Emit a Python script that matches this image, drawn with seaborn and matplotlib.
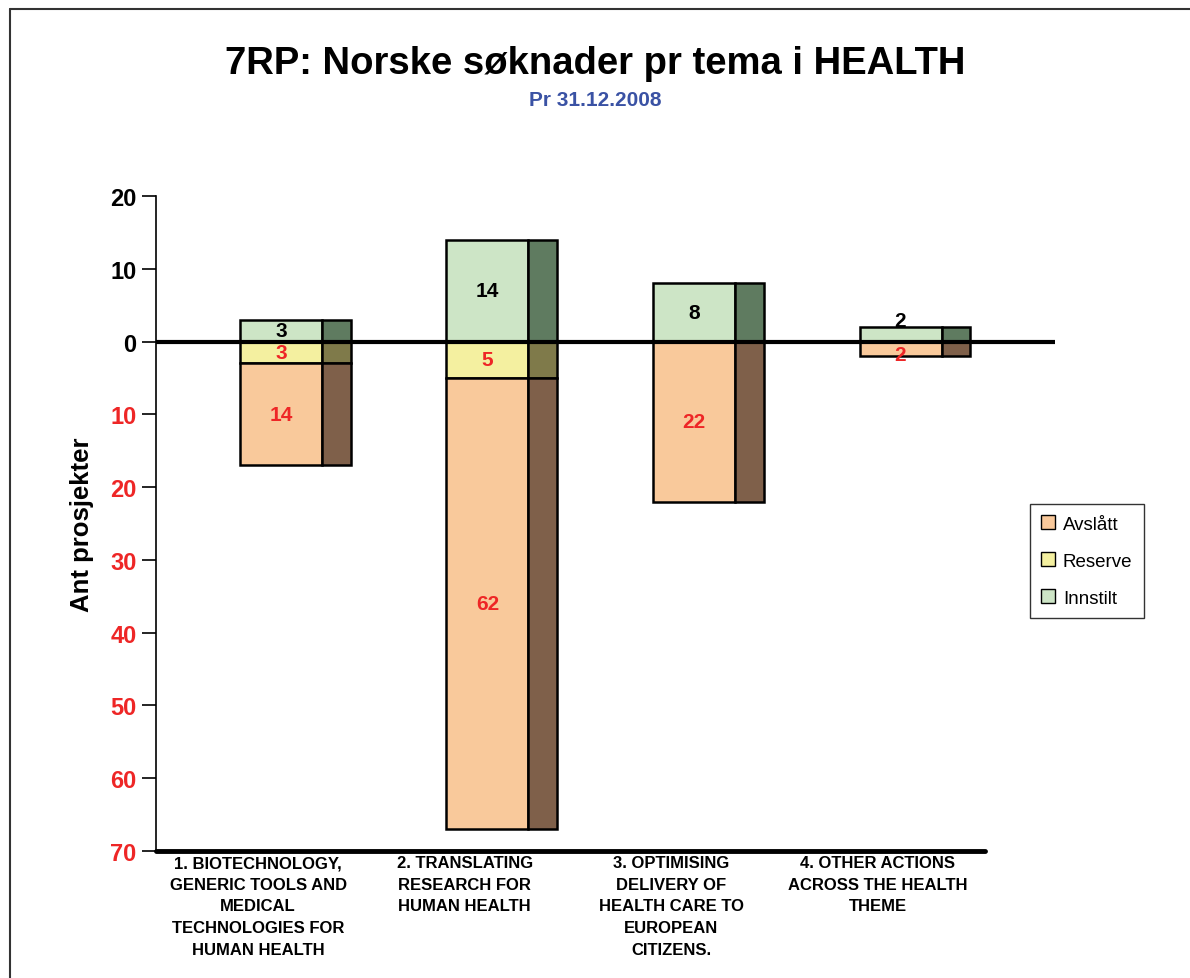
import numpy as np
import matplotlib
matplotlib.use("Agg")
import matplotlib.pyplot as plt
import seaborn as sns
from matplotlib.lines import Line2D
from matplotlib.patches import Patch

# data (antall prosjekter per tema)
temaer = ["1. BIOTECHNOLOGY,\nGENERIC TOOLS AND\nMEDICAL\nTECHNOLOGIES FOR\nHUMAN HEALTH",
          "2. TRANSLATING\nRESEARCH FOR\nHUMAN HEALTH",
          "3. OPTIMISING\nDELIVERY OF\nHEALTH CARE TO\nEUROPEAN\nCITIZENS.",
          "4. OTHER ACTIONS\nACROSS THE HEALTH\nTHEME"]
innstilt = [3, 14, 8, 2]
reserve = [3, 5, 0, 0]
avslatt = [14, 62, 22, 2]
yticks = [20, 10, 0, -10, -20, -30, -40, -50, -60, -70]

sns.set_style("white")
plt.rcParams["font.family"] = ["Liberation Sans", "DejaVu Sans"]
plt.rcParams.update({"text.color": "black", "axes.labelcolor": "black",
                     "xtick.color": "black", "ytick.color": "black"})

fig = plt.figure(figsize=(11.9, 9.79), dpi=100)
ax = fig.add_axes([156 / 1190, 127 / 979, (1055 - 156) / 1190, (853 - 198) / 979])

front = {"Avslått": "#F9C99B", "Reserve": "#F4F0A0", "Innstilt": "#CDE5C6"}
side = {"Avslått": "#7F604A", "Reserve": "#7F7A4A", "Innstilt": "#5F7B60"}

x = np.arange(len(temaer))
fw, sw = 0.397, 0.14
inn = np.array(innstilt)
res = -np.array(reserve)
avs = -np.array(avslatt)

layers = [("Innstilt", inn, np.zeros(4)),
          ("Reserve", res, np.zeros(4)),
          ("Avslått", avs, res)]
for name, h, b in layers:
    ax.bar(x, h, bottom=b, width=fw, color=front[name], edgecolor="black", linewidth=1.8, zorder=2)
    ax.bar(x + fw / 2 + sw / 2, h, bottom=b, width=sw, color=side[name], edgecolor="black",
           linewidth=1.8, zorder=2)

# value labels
red = "#EE2626"
for i in range(4):
    ax.text(x[i], inn[i] / 2 + (1.9 if inn[i] < 3 else 0), str(innstilt[i]), ha="center", va="center",
            fontsize=15, fontweight="bold", color="black", zorder=5)
    if reserve[i]:
        ax.text(x[i], res[i] / 2, str(reserve[i]), ha="center", va="center",
                fontsize=15, fontweight="bold", color=red, zorder=5)
    ax.text(x[i], res[i] + avs[i] / 2 - (0.8 if avslatt[i] < 3 else 0), str(avslatt[i]), ha="center",
            va="center", fontsize=15, fontweight="bold", color=red, zorder=5)

ax.set_xlim(-0.605, 3.748)
ax.set_ylim(-70, 20)

# zero line and bottom line
ax.axhline(0, color="black", lw=3, zorder=4)
ax.plot([-0.605, 3.41], [-70, -70], color="black", lw=3.5, clip_on=False, zorder=4)

for s in ["top", "right", "bottom"]:
    ax.spines[s].set_visible(False)
ax.spines["left"].set_linewidth(1.2)
ax.spines["left"].set_color("black")

ax.set_yticks(yticks)
ax.set_yticklabels([str(abs(v)) for v in yticks], fontsize=17, fontweight="bold")
for lab, v in zip(ax.get_yticklabels(), yticks):
    lab.set_color(red if v < 0 else "black")
ax.tick_params(axis="y", direction="out", length=10, width=1.2, color="black", left=True, pad=4)

ax.set_xticks(x - 0.11)
ax.set_xticklabels(temaer, fontsize=12, fontweight="bold", linespacing=1.55)
ax.tick_params(axis="x", length=0, pad=3)

ax.set_ylabel("Ant prosjekter", fontsize=18.5, fontweight="bold", labelpad=12)

fig.text(0.5, 0.935, "7RP: Norske søknader pr tema i HEALTH", ha="center", va="center",
         fontsize=27.5, fontweight="bold")
fig.text(0.5, 0.897, "Pr 31.12.2008", ha="center", va="center",
         fontsize=15, fontweight="bold", color="#3A52A4")

handles = [Patch(facecolor=front[n], edgecolor="black", label=n) for n in ["Avslått", "Reserve", "Innstilt"]]
leg = fig.legend(handles=handles, loc="upper left", bbox_to_anchor=(1030 / 1190, 1 - 505 / 979),
                 fontsize=13.5, frameon=True, fancybox=False, handlelength=0.75, handleheight=0.75,
                 handletextpad=0.4, labelspacing=1.05, borderpad=0.6, borderaxespad=0)
leg.get_frame().set_edgecolor("black")
leg.get_frame().set_linewidth(1.0)

# outer frame of the chart area
fig.add_artist(Line2D([10 / 1190, 1.0], [1 - 10 / 979, 1 - 10 / 979], color="#333333", lw=1.5))
fig.add_artist(Line2D([10 / 1190, 10 / 1190], [0, 1 - 10 / 979], color="#333333", lw=1.5))

fig.savefig("out.png", dpi=100)
